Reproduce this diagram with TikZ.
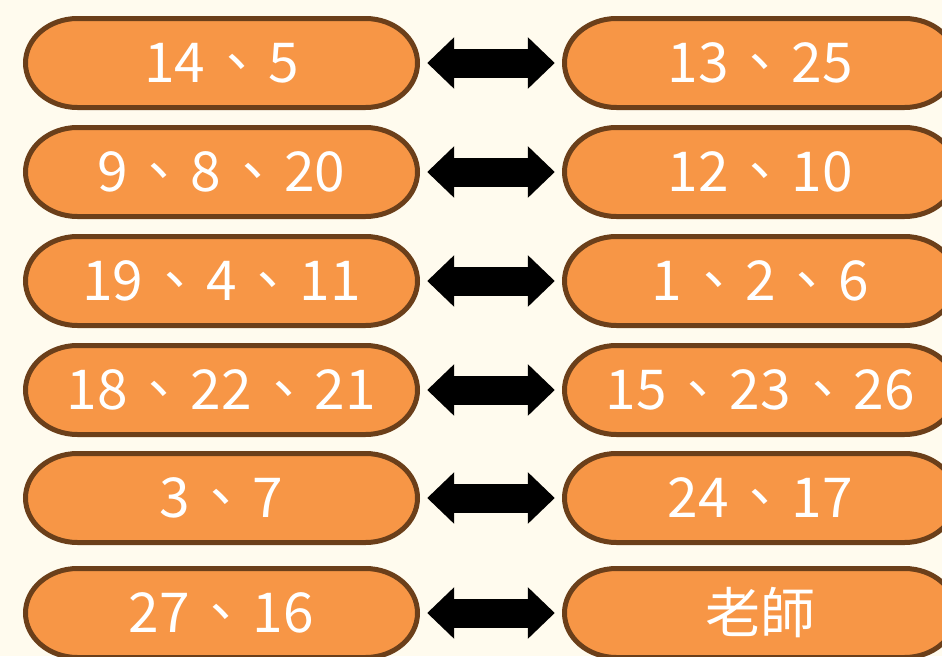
\documentclass[tikz,border=0pt]{standalone}
\usepackage{fontspec}
\setmainfont{Noto Sans CJK TC}
\usetikzlibrary{arrows.meta}
\definecolor{bgc}{HTML}{FFFBEE}
\definecolor{pillfill}{HTML}{F79646}
\definecolor{pilledge}{HTML}{6B3F1A}
\newcommand\dn{\hspace{4pt}、\hspace{4pt}}
\begin{document}
\begin{tikzpicture}[x=1pt,y=-1pt,
  pillpath/.style={draw=pilledge, line width=5pt, fill=pillfill},
  pill/.style={minimum width=392pt, minimum height=89pt, inner sep=0pt,
    text=white, font=\fontsize{55}{55}\selectfont},
  dblarrow/.style={line width=29pt, black, shorten <=9.5pt, shorten >=9.5pt,
    {Triangle[length=27pt,width=50pt]}-{Triangle[length=27pt,width=50pt]}}]
\useasboundingbox[fill=bgc] (0,0) rectangle (942,656);
\foreach \i/\y/\l/\r in {1/63/14\dn 5/13\dn 25, 2/172/9\dn 8\dn 20/12\dn 10, 3/281/19\dn 4\dn 11/1\dn 2\dn 6,
  4/390/18\dn 22\dn 21/15\dn 23\dn 26, 5/498/3\dn 7/24\dn 17, 6/613/27\dn 16/老師}{
  \foreach \cx in {221.5, 760.5}{
    \draw[pillpath] (\cx-144,\y-44.5) -- (\cx+144,\y-44.5)
      arc[start angle=90, end angle=-90, x radius=52pt, y radius=44.5pt]
      -- (\cx-144,\y+44.5)
      arc[start angle=270, end angle=90, x radius=52pt, y radius=44.5pt] -- cycle;
  }
  \node[pill] (L\i) at (221.5,\y) {\l};
  \node[pill] (R\i) at (760.5,\y) {\r};
  \draw[dblarrow] (L\i.east) -- (R\i.west);
}
\end{tikzpicture}
\end{document}
